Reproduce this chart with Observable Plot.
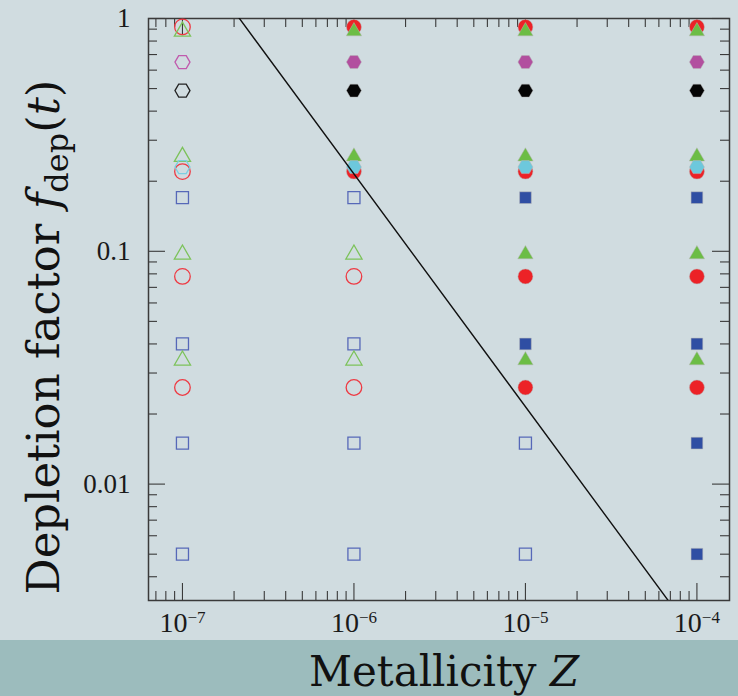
<!DOCTYPE html>
<html>
<head>
<meta charset="utf-8">
<script src="https://cdn.jsdelivr.net/npm/d3@7"></script>
<script src="https://cdn.jsdelivr.net/npm/@observablehq/plot@0.6"></script>
<style>
  html, body { margin: 0; padding: 0; background: #d0dce0; }
  #chart { position: relative; width: 738px; height: 696px; overflow: hidden; background: #d0dce0; }
  #chart svg { display: block; }
  #band { position: absolute; left: 0; top: 640px; width: 738px; height: 56px; background: #9cbcbd; overflow: hidden; }
  #xlabel { position: absolute; left: 444px; top: 10.5px; transform: translateX(-50%); white-space: nowrap;
            font-family: "DejaVu Serif", serif; font-size: 42px; line-height: 42px; color: #111; }
</style>
</head>
<body>
<div id="chart">
  <div id="band"><div id="xlabel">Metallicity <i>Z</i></div></div>
</div>
<script>
// Metallicity columns of the model grid
const zValues = [1e-7, 1e-6, 1e-5, 1e-4];

// Critical metallicity: depletion factor above zCrit / Z marks a filled symbol
const zCrit = 2.15e-7;

// One row per model series: depletion factor, symbol and colour key
const seriesF = [0.92, 0.88, 0.65, 0.49, 0.255, 0.23, 0.22, 0.17, 0.097, 0.078, 0.04, 0.034, 0.026, 0.015, 0.005];
const seriesShape = ["circle", "triangle", "hexagon", "hexagon", "triangle", "hexagon", "circle", "square",
                     "triangle", "circle", "square", "triangle", "circle", "square", "square"];
const seriesColor = ["red", "green", "magenta", "black", "green", "cyan", "red", "blue",
                     "green", "red", "blue", "green", "red", "blue", "blue"];

// Axis ticks
const xMajor = [1e-7, 1e-6, 1e-5, 1e-4];
const yMajor = [0.01, 0.1, 1];

const fillColors = {red: "#ec2227", green: "#6cbd45", magenta: "#b24f9f", black: "#050505", cyan: "#6dc8dc", blue: "#2f4ea3"};
const openColors = {red: "#ee3a43", green: "#7cc25a", magenta: "#c05aad", black: "#222222", cyan: "#7ccfe0", blue: "#5668b8"};

// Flat-topped hexagon (vertices pointing left and right)
const hexFlat = {
  draw(context, size) {
    const R = Math.sqrt(size / Math.PI);
    const h = R * Math.sqrt(3) / 2;
    context.moveTo(R, 0);
    context.lineTo(R / 2, h);
    context.lineTo(-R / 2, h);
    context.lineTo(-R, 0);
    context.lineTo(-R / 2, -h);
    context.lineTo(R / 2, -h);
    context.closePath();
  }
};
const symbols = {circle: "circle", square: "square", triangle: "triangle", hexagon: hexFlat};
const radiusFilled = {circle: 7.5, square: 6.6, triangle: 5.7, hexagon: 7.5};
const radiusOpen = {circle: 7.8, square: 6.8, triangle: 6.0, hexagon: 7.5};

const rows = [];
seriesF.forEach((f, i) => {
  zValues.forEach(z => {
    rows.push({z, f, shape: seriesShape[i], color: seriesColor[i], filled: f > zCrit / z});
  });
});

const W = 738, H = 640;
const mL = 148, mR = 9, mT = 18, mB = 40;
const fw = W - mL - mR, fh = H - mT - mB;
const xDomain = [10 ** -7.198, 10 ** -3.81];
const yDomain = [10 ** -2.5, 1];

// Minor ticks at 2..9 times each power of ten inside the domains
const minorIn = (lo, hi, e0, e1) => {
  const out = [];
  for (let e = e0; e <= e1; e++) for (let k = 2; k <= 9; k++) {
    const v = k * 10 ** e;
    if (v > lo && v < hi) out.push(v);
  }
  return out;
};
const xMinor = minorIn(xDomain[0], xDomain[1], -9, -3);
const yMinor = minorIn(yDomain[0], yDomain[1], -4, 0);

const ink = "#3a3a3a";
const minorLen = 9, majorLen = 17;

const symbolMarks = [];
for (const shape of ["circle", "square", "triangle", "hexagon"]) {
  symbolMarks.push(Plot.dot(rows.filter(d => d.shape === shape && !d.filled), {
    x: "z", y: "f", symbol: symbols[shape], r: radiusOpen[shape],
    fill: "none", stroke: d => openColors[d.color], strokeWidth: 1.3
  }));
  symbolMarks.push(Plot.dot(rows.filter(d => d.shape === shape && d.filled), {
    x: "z", y: "f", symbol: symbols[shape], r: radiusFilled[shape],
    fill: d => fillColors[d.color], stroke: "#b5b5b5", strokeWidth: 0.7, strokeOpacity: 0.7
  }));
}

const lineData = xDomain.map(z => ({z, f: zCrit / z}));

const svg = Plot.plot({
  width: W, height: H,
  marginLeft: mL, marginRight: mR, marginTop: mT, marginBottom: mB,
  style: {background: "transparent", overflow: "visible", color: "#1a1a1a",
          fontFamily: "'Liberation Serif', serif", fontSize: "28px"},
  x: {type: "log", domain: xDomain},
  y: {type: "log", domain: yDomain},
  marks: [
    // inward ticks on all four sides
    Plot.ruleX(xMinor, {insetTop: fh - minorLen, stroke: ink, strokeWidth: 1.1}),
    Plot.ruleX(xMajor, {insetTop: fh - majorLen, stroke: ink, strokeWidth: 1.1}),
    Plot.ruleX(xMinor, {insetBottom: fh - minorLen, stroke: ink, strokeWidth: 1.1}),
    Plot.ruleX(xMajor, {insetBottom: fh - majorLen, stroke: ink, strokeWidth: 1.1}),
    Plot.ruleY(yMinor, {insetRight: fw - minorLen, stroke: ink, strokeWidth: 1.1}),
    Plot.ruleY(yMajor, {insetRight: fw - majorLen, stroke: ink, strokeWidth: 1.1}),
    Plot.ruleY(yMinor, {insetLeft: fw - minorLen, stroke: ink, strokeWidth: 1.1}),
    Plot.ruleY(yMajor, {insetLeft: fw - majorLen, stroke: ink, strokeWidth: 1.1}),
    Plot.frame({stroke: ink, strokeWidth: 1.5}),
    Plot.axisX(xMajor, {anchor: "bottom", tickSize: 0, tickPadding: 12, label: null,
      fontSize: 28, tickFormat: d => `10^${Math.round(Math.log10(d))}`}),
    Plot.axisY(yMajor, {anchor: "left", tickSize: 0, tickPadding: 18, label: null,
      fontSize: 27, tickFormat: d => String(d)}),
    ...symbolMarks,
    Plot.line(lineData, {x: "z", y: "f", stroke: "#111", strokeWidth: 1.4, clip: true})
  ]
});

// Powers of ten as 10 with a raised exponent
d3.select(svg).selectAll('[aria-label="x-axis tick label"] text').each(function () {
  const s = d3.select(this);
  const [base, exp] = s.text().split("^");
  s.text(null);
  s.append("tspan").text(base);
  s.append("tspan").attr("font-size", 17).attr("dy", "-9").text(exp.replace("-", "\u2212"));
});

// Rotated y-axis title with italic f, subscript "dep" and (t)
const yt = d3.select(svg).append("text")
  .attr("transform", "translate(59,337) rotate(-90)")
  .attr("text-anchor", "middle")
  .attr("font-family", "DejaVu Serif, serif")
  .attr("font-size", 45)
  .attr("fill", "#111");
yt.append("tspan").text("Depletion factor ");
yt.append("tspan").attr("font-style", "italic").text("f");
yt.append("tspan").attr("font-size", 32).attr("dy", 9).text("dep");
yt.append("tspan").attr("dy", -9).text("(");
yt.append("tspan").attr("font-style", "italic").text("t");
yt.append("tspan").text(")");

document.getElementById("chart").prepend(svg);
</script>
</body>
</html>
